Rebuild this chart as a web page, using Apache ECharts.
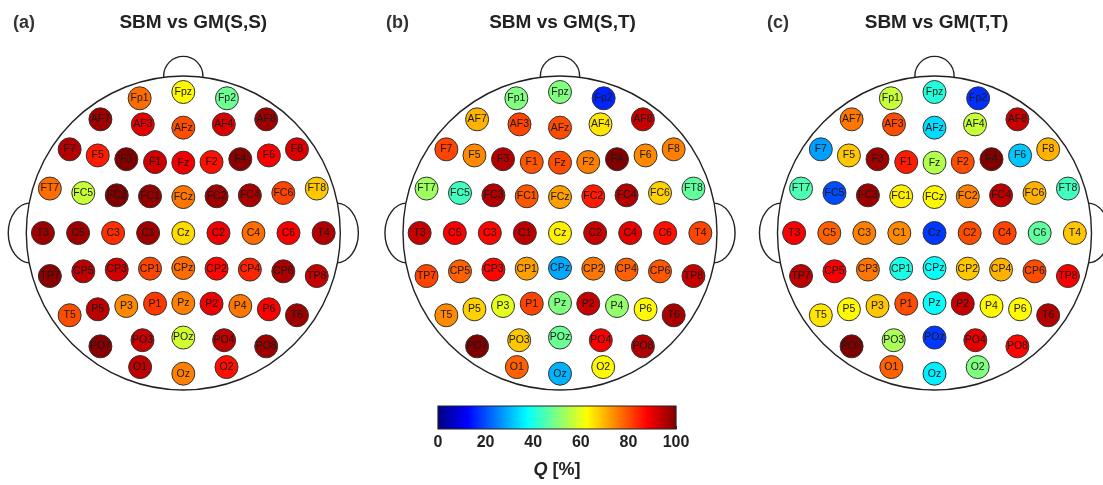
<!DOCTYPE html>
<html>
<head>
<meta charset="utf-8">
<script src="https://cdn.jsdelivr.net/npm/echarts@6/dist/echarts.min.js"></script>
<style>
html,body{margin:0;padding:0;background:#fff;}
#chart{width:1103px;height:485px;}
</style>
</head>
<body>
<div id="chart"></div>
<script>
// Electrode names (10-20 extended montage)
const electrodes = ['Fp1','Fpz','Fp2','AF7','AF3','AFz','AF4','AF8',
  'F7','F5','F3','F1','Fz','F2','F4','F6','F8',
  'FT7','FC5','FC3','FC1','FCz','FC2','FC4','FC6','FT8',
  'T3','C5','C3','C1','Cz','C2','C4','C6','T4',
  'TP7','CP5','CP3','CP1','CPz','CP2','CP4','CP6','TP8',
  'T5','P5','P3','P1','Pz','P2','P4','P6','T6',
  'PO7','PO3','POz','PO4','PO8','O1','Oz','O2'];
// Montage coordinates (head radius = 100)
const montageX = [-27.8,0,27.8,-52.8,-25.8,0,25.8,52.8,
  -72.4,-54.5,-36.3,-18,0,18,36.3,54.5,72.4,
  -85,-63.7,-42.4,-21.2,0,21.2,42.4,63.7,85,
  -89.4,-67,-44.7,-22.4,0,22.4,44.7,67,89.4,
  -85,-63.7,-42.4,-21.2,0,21.2,42.4,63.7,85,
  -72.4,-54.5,-36.3,-18,0,18,36.3,54.5,72.4,
  -52.8,-26,0,26,52.8,-27.5,0,27.5];
const montageY = [85.8,89.8,85.8,72.4,69.2,67.1,69.2,72.4,
  53.3,49.4,47,45.2,44.8,45.2,47,49.4,53.3,
  28.3,25.5,24,23.4,22.9,23.4,24,25.5,28.3,
  0,0,0,0,0,0,0,0,0,
  -27.4,-24.4,-23.3,-22.7,-22.3,-22.7,-23.3,-24.4,-27.4,
  -52.4,-48.6,-46.5,-45,-44.6,-45,-46.5,-48.6,-52.4,
  -72.2,-68.3,-66.6,-68.3,-72.2,-85.4,-89.6,-85.4];
// Q [%] values per panel
const qSS = [77,63,48,97,90,80,91,97,
  95,85,100,92,89,86,99,88,91,
  77,57,100,98,76,97,96,81,68,
  97,97,83,97,66,89,77,88,95,
  99,94,92,81,77,87,84,96,93,
  80,94,74,82,75,89,76,88,97,
  99,93,58,94,97,94,75,86];
const qST = [50,50,16,70,81,80,65,93,
  81,74,95,79,80,75,100,74,75,
  53,44,95,79,72,85,95,67,47,
  93,88,87,94,64,93,90,86,81,
  81,78,87,72,29,76,78,79,93,
  74,67,60,81,50,93,52,63,96,
  100,68,48,88,95,78,30,63];
const qTT = [57,41,17,76,80,34,57,93,
  28,68,97,85,55,80,100,32,70,
  45,20,97,64,63,75,94,70,44,
  88,78,75,74,18,80,81,47,68,
  94,88,76,40,38,68,70,80,88,
  65,63,68,80,38,93,63,63,95,
  100,54,18,90,87,78,36,50];
const panelTitles = ['SBM vs GM(S,S)','SBM vs GM(S,T)','SBM vs GM(T,T)'];
const panelTags = ['(a)','(b)','(c)'];
const colorTicks = [0,20,40,60,80,100];

const jet = ['#000080','#0000ff','#0080ff','#00ffff','#80ff80','#ffff00','#ff8000','#ff0000','#800000'];
const FONT = 'Liberation Sans, Arial, Helvetica, sans-serif';

const chart = echarts.init(document.getElementById('chart'), null, {renderer:'canvas'});

const headCenters = [183.3, 560, 934.5];
const R = 157;
const grids = headCenters.map(cx => ({left: cx - R, top: 233 - R, width: 2*R, height: 2*R}));
grids.push({left: 438, top: 406, width: 238, height: 23});

const xAxes = [0,1,2].map(i => ({gridIndex:i, type:'value', min:-100, max:100, show:false}));
const yAxes = [0,1,2].map(i => ({gridIndex:i, type:'value', min:-100, max:100, show:false}));
xAxes.push({gridIndex:3, type:'value', min:colorTicks[0], max:colorTicks[colorTicks.length-1], interval:20,
  axisLine:{show:false}, splitLine:{show:false},
  axisTick:{show:true, inside:true, length:3, lineStyle:{color:'#333', width:1}},
  axisLabel:{fontSize:16, fontWeight:'bold', color:'#222', margin:6, fontFamily:FONT},
  name:'{q|Q} [%]', nameLocation:'middle', nameGap:32,
  nameTextStyle:{fontSize:18, fontWeight:'bold', color:'#222', fontFamily:FONT,
    rich:{q:{fontStyle:'italic', fontWeight:'bold', fontSize:18, color:'#222', fontFamily:FONT}}}
});
yAxes.push({gridIndex:3, type:'value', min:0, max:1, show:false});

function headRender(params, api) {
  const c = api.coord([0,0]);
  const s = api.size([100,100]);
  const r = s[0];
  const u = r/100;
  const stroke = {stroke:'#222', lineWidth:1.4, fill:'#fff'};
  const earPath = (cx) => {
    const rx = 14*u, ry = 19*u, cy = c[1];
    return 'M ' + (cx-rx) + ' ' + cy + ' A ' + rx + ' ' + ry + ' 0 1 0 ' + (cx+rx) + ' ' + cy +
      ' A ' + rx + ' ' + ry + ' 0 1 0 ' + (cx-rx) + ' ' + cy + ' Z';
  };
  return {
    type:'group',
    children:[
      {type:'circle', shape:{cx:c[0], cy:c[1]-100*u, r:12.5*u}, style:stroke},
      {type:'path', shape:{pathData:earPath(c[0]-97.5*u)}, style:stroke},
      {type:'path', shape:{pathData:earPath(c[0]+97.5*u)}, style:stroke},
      {type:'circle', shape:{cx:c[0], cy:c[1], r:r}, style:stroke}
    ]
  };
}

const series = [];
const qSets = [qSS, qST, qTT];
[0,1,2].forEach(i => {
  series.push({
    type:'custom', xAxisIndex:i, yAxisIndex:i, data:[[0,0]], clip:false, silent:true, z:1,
    renderItem: headRender
  });
});
[0,1,2].forEach(i => {
  series.push({
    type:'scatter', xAxisIndex:i, yAxisIndex:i, z:5,
    symbol:'circle', symbolSize:23,
    itemStyle:{borderColor:'#333', borderWidth:1, opacity:1},
    label:{show:true, position:'inside', formatter: p => p.data[3], fontSize:10.5,
      color:'#1a1a1a', fontFamily:FONT, textBorderWidth:0, textBorderColor:'transparent',
      textShadowBlur:0, overflow:'none'},
    labelLayout:{hideOverlap:false},
    emphasis:{disabled:true},
    data: electrodes.map((n, k) => [montageX[k], montageY[k], qSets[i][k], n])
  });
});
series.push({
  type:'custom', xAxisIndex:3, yAxisIndex:3, clip:false, silent:true, z:3,
  data:[[colorTicks[0], 0, colorTicks[colorTicks.length-1], 1]],
  renderItem: (params, api) => {
    const p0 = api.coord([api.value(0), api.value(3)]);
    const p1 = api.coord([api.value(2), api.value(1)]);
    return {type:'rect', shape:{x:p0[0], y:p0[1], width:p1[0]-p0[0], height:p1[1]-p0[1]},
      style:{fill:{type:'linear', x:0, y:0, x2:1, y2:0,
        colorStops: jet.map((col, k) => ({offset:k/(jet.length-1), color:col}))},
        stroke:'#222', lineWidth:1.2}};
  }
});

const titleX = [193.3, 562.5, 936.5];
const tagX = [13, 386, 767];
const graphic = [];
[0,1,2].forEach(i => {
  graphic.push({type:'text', x:titleX[i], y:23, silent:true,
    style:{text:panelTitles[i], fontSize:19, fontWeight:'bold', fontFamily:FONT, fill:'#222',
      align:'center', verticalAlign:'middle', textAlign:'center', textVerticalAlign:'middle'}});
  graphic.push({type:'text', x:tagX[i], y:23, silent:true,
    style:{text:panelTags[i], fontSize:18, fontWeight:'bold', fontFamily:FONT, fill:'#333',
      align:'left', verticalAlign:'middle', textAlign:'left', textVerticalAlign:'middle'}});
});

chart.setOption({
  animation:false,
  backgroundColor:'#fff',
  grid: grids,
  xAxis: xAxes,
  yAxis: yAxes,
  visualMap:[{type:'continuous', show:false, min:0, max:100, dimension:2,
    seriesIndex:[3,4,5], inRange:{color:jet}}],
  graphic: graphic,
  series: series
});
</script>
</body>
</html>
